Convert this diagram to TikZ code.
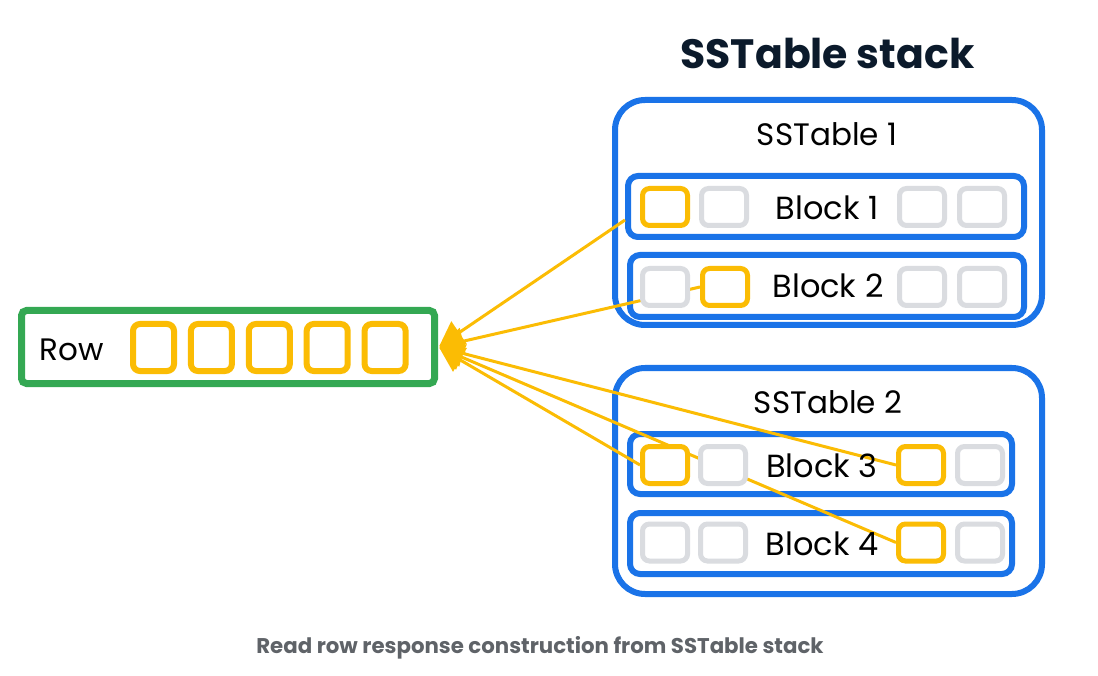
\documentclass[tikz,border=0pt]{standalone}
\usepackage{fontspec}
\setmainfont{Poppins}
\usetikzlibrary{arrows.meta}
\definecolor{gBlue}{HTML}{1A73E8}
\definecolor{gGreen}{HTML}{34A853}
\definecolor{gGold}{HTML}{FBBC04}
\definecolor{gGray}{HTML}{DADCE0}
\definecolor{gInk}{HTML}{0B1A2B}
\definecolor{gCaption}{HTML}{5F6368}
\tikzstyle{tableBox}=[shape = rectangle, draw = gBlue, line width = 6pt, rounded corners = 30pt, fill = white, minimum width = 427pt, minimum height = 225pt, inner sep = 0pt]
\tikzstyle{blockBox}=[shape = rectangle, draw = gBlue, line width = 6pt, rounded corners = 10pt, fill = white, minimum height = 61pt, inner sep = 0pt]
\tikzstyle{rowBox}=[shape = rectangle, draw = gGreen, line width = 7pt, rounded corners = 5pt, fill = white, minimum width = 413pt, minimum height = 73pt, inner sep = 0pt]
\tikzstyle{cellGold}=[shape = rectangle, draw = gGold, line width = 5pt, rounded corners = 7pt, fill = white, minimum width = 45pt, minimum height = 37pt, inner sep = 0pt]
\tikzstyle{cellGray}=[cellGold, draw = gGray]
\tikzstyle{rowCell}=[cellGold, line width = 6pt, minimum width = 41pt, minimum height = 47pt]
\tikzstyle{feed}=[draw = gGold, line width = 3pt, shorten < = 1.5pt, {Triangle[length = 24pt, width = 27pt]}-]
\pgfdeclarelayer{boxes}
\pgfdeclarelayer{lines}
\pgfsetlayers{boxes,lines,main}

\begin{document}
\begin{tikzpicture}[x = 1pt, y = -1pt]
\tikzstyle{blockText}=[anchor = base, inner sep = 0pt, font = \fontsize{32}{36}\selectfont]
\tikzstyle{headText}=[anchor = base, inner sep = 0pt, font = \fontsize{31}{36}\selectfont]
\useasboundingbox (0,0) rectangle (1098,676);
% tables, blocks and the row
\begin{pgfonlayer}{boxes}
\node[tableBox] (t1) at (828.5,212.5) {};
\node[tableBox, minimum height = 226pt] (t2) at (828.5,481) {};
\node[blockBox, minimum width = 396pt] (b1) at (826,206.5) {};
\node[blockBox, minimum width = 394pt, minimum height = 62pt] (b2) at (827,286) {};
\node[blockBox, minimum width = 382pt, minimum height = 60pt] (b3) at (821,464) {};
\node[blockBox, minimum width = 382pt] (b4) at (821,543.5) {};
\node[rowBox] (row) at (228,347) {};
\end{pgfonlayer}
% cells
\node[cellGold] (s11) at (665,207) {};
\node[cellGray] (s12) at (724,207) {};
\node[cellGray] (s13) at (922,207) {};
\node[cellGray] (s14) at (982,207) {};
\node[cellGray] (s21) at (665,287) {};
\node[cellGold] (s22) at (725,287) {};
\node[cellGray] (s23) at (922,287) {};
\node[cellGray] (s24) at (982,287) {};
\node[cellGold] (s31) at (665,465) {};
\node[cellGray] (s32) at (723,465) {};
\node[cellGold] (s33) at (921,465) {};
\node[cellGray] (s34) at (980,465) {};
\node[cellGray] (s41) at (665,542.5) {};
\node[cellGray] (s42) at (723,542.5) {};
\node[cellGold] (s43) at (921,542.5) {};
\node[cellGray] (s44) at (980,542.5) {};
\foreach \i in {1,...,5}
  \node[rowCell] (r\i) at ({95.6+57.9*\i},347.5) {};
% labels
\node[anchor = base, inner sep = 0pt, text = gInk, font = \fontsize{41}{46}\selectfont\bfseries] (title) at (827.5,69) {SSTable stack};
\node[headText] (h1) at (827,146) {SSTable 1};
\node[headText] (h2) at (828,413) {SSTable 2};
\node[blockText] (l1) at (827,220) {Block 1};
\node[blockText] (l2) at (828,298) {Block 2};
\node[blockText] (l3) at (822,477) {Block 3};
\node[blockText] (l4) at (822,555) {Block 4};
\node[headText] (rowlabel) at (72,360) {Row};
\node[anchor = base, inner sep = 0pt, text = gCaption, font = \fontsize{21.3}{25}\selectfont\bfseries] (caption) at (540,653) {Read row response construction from SSTable stack};
% reads into the row
\coordinate (e1) at ([yshift = -13.5pt]b1.west);
\begin{pgfonlayer}{lines}
\draw[feed] (row.east) -- (e1);
\draw[feed] (row.east) -- (s22.west);
\draw[feed] (row.east) -- (s33.west);
\draw[feed] (row.east) -- (s31.west);
\draw[feed] (row.east) -- (s43.west);
\end{pgfonlayer}
\end{tikzpicture}
\end{document}
